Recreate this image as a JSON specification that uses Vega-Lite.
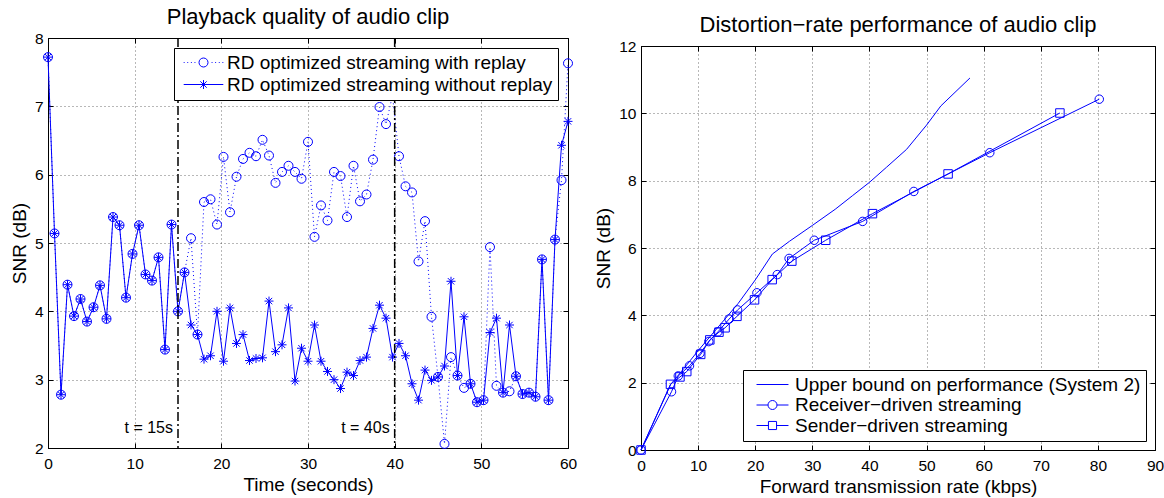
{
  "$schema": "https://vega.github.io/schema/vega-lite/v6.json",
  "background": "white",
  "padding": {"left": 9, "top": 5, "right": 0, "bottom": 0},
  "spacing": 16,
  "resolve": {"scale": {"shape": "independent", "x": "independent", "y": "independent"}, "legend": {"shape": "independent"}},
  "config": {
    "font": "Liberation Sans",
    "view": {"stroke": "#000000", "strokeWidth": 1},
    "title": {"fontSize": 22, "fontWeight": "normal", "color": "#000000", "offset": 2},
    "axis": {
      "domainColor": "#000000",
      "tickColor": "#000000",
      "tickSize": -5,
      "labelColor": "#000000",
      "labelFontSize": 15.5,
      "labelFlush": false,
      "labelOverlap": false,
      "format": "d",
      "titleColor": "#000000",
      "titleFontSize": 19,
      "titleFontWeight": "normal",
      "gridColor": "#000000",
      "gridDash": [1, 3],
      "gridOpacity": 0.7,
      "gridWidth": 0.8
    },
    "axisX": {"labelPadding": 13, "titlePadding": 4},
    "axisY": {"labelPadding": 10, "titlePadding": 5},
    "legend": {
      "title": null,
      "labelColor": "#000000",
      "labelFontSize": 19,
      "labelLimit": 700,
      "strokeColor": "#000000",
      "fillColor": "#ffffff",
      "padding": 5,
      "cornerRadius": 0,
      "symbolStrokeWidth": 1,
      "symbolStrokeColor": "#0000ff",
      "symbolFillColor": "transparent"
    }
  },
  "datasets": {
    "play": [
      {"t": 0, "with": 7.72, "without": 7.72},
      {"t": 0.75, "with": 5.14, "without": 5.14},
      {"t": 1.5, "with": 2.78, "without": 2.78},
      {"t": 2.25, "with": 4.39, "without": 4.39},
      {"t": 3, "with": 3.93, "without": 3.93},
      {"t": 3.75, "with": 4.18, "without": 4.18},
      {"t": 4.5, "with": 3.85, "without": 3.85},
      {"t": 5.25, "with": 4.06, "without": 4.06},
      {"t": 6, "with": 4.38, "without": 4.38},
      {"t": 6.75, "with": 3.89, "without": 3.89},
      {"t": 7.5, "with": 5.38, "without": 5.38},
      {"t": 8.25, "with": 5.26, "without": 5.26},
      {"t": 9, "with": 4.2, "without": 4.2},
      {"t": 9.75, "with": 4.84, "without": 4.84},
      {"t": 10.5, "with": 5.26, "without": 5.26},
      {"t": 11.25, "with": 4.54, "without": 4.54},
      {"t": 12, "with": 4.45, "without": 4.45},
      {"t": 12.75, "with": 4.79, "without": 4.79},
      {"t": 13.5, "with": 3.44, "without": 3.44},
      {"t": 14.25, "with": 5.27, "without": 5.27},
      {"t": 15, "with": 4.0, "without": 4.0},
      {"t": 15.75, "with": 4.57, "without": 4.57},
      {"t": 16.5, "with": 5.07, "without": 3.8},
      {"t": 17.25, "with": 3.66, "without": 3.66},
      {"t": 18, "with": 5.6, "without": 3.3},
      {"t": 18.75, "with": 5.64, "without": 3.35},
      {"t": 19.5, "with": 5.27, "without": 4.0},
      {"t": 20.25, "with": 6.26, "without": 3.27},
      {"t": 21, "with": 5.45, "without": 4.05},
      {"t": 21.75, "with": 5.97, "without": 3.53},
      {"t": 22.5, "with": 6.23, "without": 3.66},
      {"t": 23.25, "with": 6.32, "without": 3.28},
      {"t": 24, "with": 6.27, "without": 3.31},
      {"t": 24.75, "with": 6.51, "without": 3.32},
      {"t": 25.5, "with": 6.28, "without": 4.15},
      {"t": 26.25, "with": 5.88, "without": 3.41},
      {"t": 27, "with": 6.04, "without": 3.51},
      {"t": 27.75, "with": 6.13, "without": 4.05},
      {"t": 28.5, "with": 6.04, "without": 2.98},
      {"t": 29.25, "with": 5.94, "without": 3.46},
      {"t": 30, "with": 6.48, "without": 3.27},
      {"t": 30.75, "with": 5.09, "without": 3.8},
      {"t": 31.5, "with": 5.55, "without": 3.27},
      {"t": 32.25, "with": 5.33, "without": 3.12},
      {"t": 33, "with": 6.04, "without": 3.0},
      {"t": 33.75, "with": 5.98, "without": 2.87},
      {"t": 34.5, "with": 5.38, "without": 3.11},
      {"t": 35.25, "with": 6.13, "without": 3.06},
      {"t": 36, "with": 5.61, "without": 3.28},
      {"t": 36.75, "with": 5.71, "without": 3.33},
      {"t": 37.5, "with": 6.22, "without": 3.75},
      {"t": 38.25, "with": 6.99, "without": 4.09},
      {"t": 39, "with": 6.74, "without": 3.9},
      {"t": 39.75, "with": 7.16, "without": 3.33},
      {"t": 40.5, "with": 6.27, "without": 3.53},
      {"t": 41.25, "with": 5.83, "without": 3.35},
      {"t": 42, "with": 5.74, "without": 2.94},
      {"t": 42.75, "with": 4.73, "without": 2.7},
      {"t": 43.5, "with": 5.32, "without": 3.14},
      {"t": 44.25, "with": 3.92, "without": 2.99},
      {"t": 45, "with": 3.04, "without": 3.04},
      {"t": 45.75, "with": 2.06, "without": 3.2},
      {"t": 46.5, "with": 3.33, "without": 4.44},
      {"t": 47.25, "with": 3.06, "without": 3.06},
      {"t": 48, "with": 2.88, "without": 3.92},
      {"t": 48.75, "with": 2.94, "without": 2.94},
      {"t": 49.5, "with": 2.67, "without": 2.67},
      {"t": 50.25, "with": 2.7, "without": 2.7},
      {"t": 51, "with": 4.94, "without": 3.69},
      {"t": 51.75, "with": 2.91, "without": 3.9},
      {"t": 52.5, "with": 2.81, "without": 2.81},
      {"t": 53.25, "with": 2.83, "without": 3.8},
      {"t": 54, "with": 3.05, "without": 3.05},
      {"t": 54.75, "with": 2.79, "without": 2.79},
      {"t": 55.5, "with": 2.81, "without": 2.81},
      {"t": 56.25, "with": 2.75, "without": 2.75},
      {"t": 57, "with": 4.76, "without": 4.76},
      {"t": 57.75, "with": 2.7, "without": 2.7},
      {"t": 58.5, "with": 5.05, "without": 5.05},
      {"t": 59.25, "with": 5.92, "without": 6.43},
      {"t": 60, "with": 7.63, "without": 6.78}
    ],
    "marks": [
      {"t": 15, "label": "t = 15s"},
      {"t": 40, "label": "t = 40s"}
    ],
    "rd": [
      {"rate": 0, "snr": 0, "series": "Upper bound on performance (System 2)"},
      {"rate": 5.2, "snr": 1.95, "series": "Upper bound on performance (System 2)"},
      {"rate": 7.5, "snr": 2.42, "series": "Upper bound on performance (System 2)"},
      {"rate": 10, "snr": 2.95, "series": "Upper bound on performance (System 2)"},
      {"rate": 12, "snr": 3.35, "series": "Upper bound on performance (System 2)"},
      {"rate": 14, "snr": 3.75, "series": "Upper bound on performance (System 2)"},
      {"rate": 17, "snr": 4.35, "series": "Upper bound on performance (System 2)"},
      {"rate": 20, "snr": 5.05, "series": "Upper bound on performance (System 2)"},
      {"rate": 23, "snr": 5.82, "series": "Upper bound on performance (System 2)"},
      {"rate": 26, "snr": 6.2, "series": "Upper bound on performance (System 2)"},
      {"rate": 30, "snr": 6.67, "series": "Upper bound on performance (System 2)"},
      {"rate": 34, "snr": 7.15, "series": "Upper bound on performance (System 2)"},
      {"rate": 37, "snr": 7.55, "series": "Upper bound on performance (System 2)"},
      {"rate": 40, "snr": 7.95, "series": "Upper bound on performance (System 2)"},
      {"rate": 43, "snr": 8.4, "series": "Upper bound on performance (System 2)"},
      {"rate": 46.5, "snr": 8.93, "series": "Upper bound on performance (System 2)"},
      {"rate": 50, "snr": 9.65, "series": "Upper bound on performance (System 2)"},
      {"rate": 52.5, "snr": 10.22, "series": "Upper bound on performance (System 2)"},
      {"rate": 57.6, "snr": 11.05, "series": "Upper bound on performance (System 2)"},
      {"rate": 0, "snr": 0, "series": "Receiver−driven streaming"},
      {"rate": 5.34, "snr": 1.73, "series": "Receiver−driven streaming"},
      {"rate": 6.53, "snr": 2.2, "series": "Receiver−driven streaming"},
      {"rate": 8.49, "snr": 2.5, "series": "Receiver−driven streaming"},
      {"rate": 10.33, "snr": 2.87, "series": "Receiver−driven streaming"},
      {"rate": 11.87, "snr": 3.22, "series": "Receiver−driven streaming"},
      {"rate": 13.47, "snr": 3.51, "series": "Receiver−driven streaming"},
      {"rate": 15.43, "snr": 3.89, "series": "Receiver−driven streaming"},
      {"rate": 16.91, "snr": 4.16, "series": "Receiver−driven streaming"},
      {"rate": 20.3, "snr": 4.67, "series": "Receiver−driven streaming"},
      {"rate": 23.86, "snr": 5.21, "series": "Receiver−driven streaming"},
      {"rate": 25.93, "snr": 5.69, "series": "Receiver−driven streaming"},
      {"rate": 30.33, "snr": 6.23, "series": "Receiver−driven streaming"},
      {"rate": 38.81, "snr": 6.79, "series": "Receiver−driven streaming"},
      {"rate": 47.77, "snr": 7.68, "series": "Receiver−driven streaming"},
      {"rate": 61.07, "snr": 8.83, "series": "Receiver−driven streaming"},
      {"rate": 80.24, "snr": 10.42, "series": "Receiver−driven streaming"},
      {"rate": 0, "snr": 0, "series": "Sender−driven streaming"},
      {"rate": 5.16, "snr": 1.95, "series": "Sender−driven streaming"},
      {"rate": 6.82, "snr": 2.17, "series": "Sender−driven streaming"},
      {"rate": 8.01, "snr": 2.33, "series": "Sender−driven streaming"},
      {"rate": 10.45, "snr": 2.84, "series": "Sender−driven streaming"},
      {"rate": 12.05, "snr": 3.27, "series": "Sender−driven streaming"},
      {"rate": 13.65, "snr": 3.5, "series": "Sender−driven streaming"},
      {"rate": 14.72, "snr": 3.63, "series": "Sender−driven streaming"},
      {"rate": 16.8, "snr": 3.97, "series": "Sender−driven streaming"},
      {"rate": 19.88, "snr": 4.46, "series": "Sender−driven streaming"},
      {"rate": 22.97, "snr": 5.06, "series": "Sender−driven streaming"},
      {"rate": 26.41, "snr": 5.61, "series": "Sender−driven streaming"},
      {"rate": 32.34, "snr": 6.23, "series": "Sender−driven streaming"},
      {"rate": 40.53, "snr": 7.02, "series": "Sender−driven streaming"},
      {"rate": 53.77, "snr": 8.2, "series": "Sender−driven streaming"},
      {"rate": 73.35, "snr": 10.01, "series": "Sender−driven streaming"}
    ]
  },
  "hconcat": [
    {
      "width": 520,
      "height": 410,
      "title": {"text": "Playback quality of audio clip"},
      "resolve": {"scale": {"shape": "independent"}, "legend": {"shape": "independent"}, "axis": {"x": "independent", "y": "independent"}},
      "layer": [
        {
          "data": {"name": "play"},
          "transform": [{"fold": ["with", "without"], "as": ["series", "snr"]}, {"filter": "datum.series == 'with'"}],
          "mark": {"type": "line", "stroke": "#0000ff", "strokeWidth": 1, "strokeDash": [1, 3]},
          "encoding": {
            "x": {"field": "t", "type": "quantitative", "scale": {"domain": [0, 60], "nice": false, "zero": false}, "axis": {"title": "Time (seconds)", "values": [0, 10, 20, 30, 40, 50, 60], "grid": true}},
            "y": {"field": "snr", "type": "quantitative", "scale": {"domain": [2, 8], "nice": false, "zero": false}, "axis": {"title": "SNR (dB)", "values": [2, 3, 4, 5, 6, 7, 8], "grid": true}}
          }
        },
        {
          "data": {"name": "play"},
          "transform": [{"fold": ["with", "without"], "as": ["series", "snr"]}, {"filter": "datum.series == 'without'"}],
          "mark": {"type": "line", "stroke": "#0000ff", "strokeWidth": 1},
          "encoding": {
            "x": {"field": "t", "type": "quantitative", "axis": null},
            "y": {"field": "snr", "type": "quantitative", "axis": null}
          }
        },
        {
          "data": {"name": "play"},
          "transform": [{"fold": ["with", "without"], "as": ["series", "snr"]}],
          "mark": {"type": "point", "filled": false, "stroke": "#0000ff", "strokeWidth": 1, "size": 81, "opacity": 1},
          "encoding": {
            "x": {"field": "t", "type": "quantitative", "axis": null},
            "y": {"field": "snr", "type": "quantitative", "axis": null},
            "shape": {
              "field": "series",
              "type": "nominal",
              "scale": {"domain": ["with", "without"], "range": ["circle", "M-1,0L1,0M0,-1L0,1M-0.71,-0.71L0.71,0.71M-0.71,0.71L0.71,-0.71"]},
              "legend": null
            }
          }
        },
        {
          "data": {"name": "play"},
          "transform": [{"fold": ["with", "without"], "as": ["series", "snr"]}, {"filter": "false"}],
          "mark": {"type": "point", "filled": false, "stroke": "#0000ff", "strokeWidth": 1, "size": 81, "opacity": 1},
          "encoding": {
            "x": {"field": "t", "type": "quantitative", "axis": {"orient": "top", "values": [0, 10, 20, 30, 40, 50, 60], "labels": false, "title": null, "grid": false, "domain": false}},
            "y": {"field": "snr", "type": "quantitative", "axis": {"orient": "right", "values": [2, 3, 4, 5, 6, 7, 8], "labels": false, "title": null, "grid": false, "domain": false}},
            "shape": {
              "field": "series",
              "type": "nominal",
              "scale": {"domain": ["with", "without"], "range": ["M-4.4,0L-4.2,0M-3.6,0L-3.4,0M-2.8,0L-2.6,0M-2,0L-1.8,0M1.8,0L2,0M2.6,0L2.8,0M3.4,0L3.6,0M4.2,0L4.4,0M1,0A1,1,0,1,1,-1,0A1,1,0,1,1,1,0", "M-4.4,0L4.4,0M0,-1L0,1M-0.71,-0.71L0.71,0.71M-0.71,0.71L0.71,-0.71"]},
              "legend": {
                "orient": "top-right",
                "offset": 10,
                "rowPadding": 2,
                "symbolSize": 81,
                "symbolOffset": 15,
                "labelOffset": 14,
                "labelExpr": "datum.label == 'with' ? 'RD optimized streaming with replay' : 'RD optimized streaming without replay'"
              }
            }
          }
        },
        {
          "data": {"name": "marks"},
          "mark": {"type": "rule", "stroke": "#000000", "strokeWidth": 1.5, "strokeDash": [9, 3, 2, 3]},
          "encoding": {
            "x": {"field": "t", "type": "quantitative", "axis": null}
          }
        },
        {
          "data": {"name": "marks"},
          "mark": {"type": "text", "align": "right", "baseline": "middle", "dx": -5, "fontSize": 16, "color": "#000000"},
          "encoding": {
            "x": {"field": "t", "type": "quantitative", "axis": null},
            "y": {"datum": 2.3, "axis": null},
            "text": {"field": "label"}
          }
        }
      ]
    },
    {
      "spacing": -26,
      "resolve": {"scale": {"shape": "independent"}, "legend": {"shape": "independent"}},
      "vconcat": [
        {
          "width": 514,
          "height": 1,
          "view": {"stroke": null},
          "data": {"values": [{"a": 1}]},
          "mark": {"type": "point", "size": 0, "opacity": 0}
        },
        {
          "width": 514,
          "height": 404,
          "title": {"text": "Distortion−rate performance of audio clip"},
          "data": {"name": "rd"},
          "resolve": {"scale": {"shape": "independent"}, "legend": {"shape": "independent"}, "axis": {"x": "independent", "y": "independent"}},
          "layer": [
            {
              "mark": {"type": "line", "stroke": "#0000ff", "strokeWidth": 1},
              "encoding": {
                "x": {"field": "rate", "type": "quantitative", "scale": {"domain": [0, 90], "nice": false}, "axis": {"title": "Forward transmission rate (kbps)", "values": [0, 10, 20, 30, 40, 50, 60, 70, 80, 90], "grid": true}},
                "y": {"field": "snr", "type": "quantitative", "scale": {"domain": [0, 12], "nice": false}, "axis": {"title": "SNR (dB)", "values": [0, 2, 4, 6, 8, 10, 12], "grid": true}},
                "detail": {"field": "series", "type": "nominal"}
              }
            },
            {
              "mark": {"type": "point", "filled": false, "stroke": "#0000ff", "strokeWidth": 1, "size": 72, "opacity": 1},
              "encoding": {
                "x": {"field": "rate", "type": "quantitative", "axis": null},
                "y": {"field": "snr", "type": "quantitative", "axis": null},
                "shape": {
                  "field": "series",
                  "type": "nominal",
                  "scale": {"domain": ["Upper bound on performance (System 2)", "Receiver−driven streaming", "Sender−driven streaming"], "range": ["M0,0", "circle", "square"]},
                  "legend": null
                }
              }
            },
            {
              "transform": [{"filter": "false"}],
              "mark": {"type": "point", "filled": false, "stroke": "#0000ff", "strokeWidth": 1, "size": 81, "opacity": 1},
              "encoding": {
                "x": {"field": "rate", "type": "quantitative", "axis": {"orient": "top", "values": [0, 10, 20, 30, 40, 50, 60, 70, 80, 90], "labels": false, "title": null, "grid": false, "domain": false}},
                "y": {"field": "snr", "type": "quantitative", "axis": {"orient": "right", "values": [0, 2, 4, 6, 8, 10, 12], "labels": false, "title": null, "grid": false, "domain": false}},
                "shape": {
                  "field": "series",
                  "type": "nominal",
                  "scale": {"domain": ["Upper bound on performance (System 2)", "Receiver−driven streaming", "Sender−driven streaming"], "range": ["M-3.55,0L3.55,0", "M-3.55,0L-1,0M1,0L3.55,0M1,0A1,1,0,1,1,-1,0A1,1,0,1,1,1,0", "M-3.55,0L-0.9,0M0.9,0L3.55,0M-0.9,-0.9L0.9,-0.9L0.9,0.9L-0.9,0.9Z"]},
                  "legend": {
                    "orient": "bottom-right",
                    "offset": 9,
                    "rowPadding": 0.5,
                    "symbolSize": 81,
                    "symbolOffset": 15,
                    "labelOffset": 13
                  }
                }
              }
            }
          ]
        }
      ]
    }
  ]
}
